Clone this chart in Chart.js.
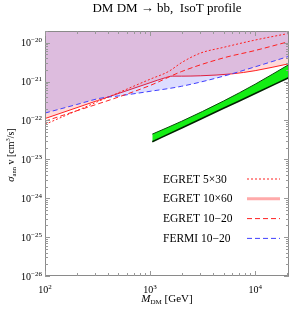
<!DOCTYPE html>
<html>
<head>
<meta charset="utf-8">
<script src="https://cdn.jsdelivr.net/npm/chart.js@4/dist/chart.umd.min.js"></script>
<style>
html, body { margin: 0; padding: 0; background: #fff; }
</style>
</head>
<body>
<canvas id="c" width="294" height="309"></canvas>
<script>
// masses in GeV, <sigma v> in cm^3/s
var fermiMass = [100, 200, 334, 500, 1000, 2000, 5000, 10000, 21000];
var fermiSigma = [1.55e-22, 2.57e-22, 3.72e-22, 4.27e-22, 5.62e-22, 7.59e-22, 1.38e-21, 2.40e-21, 4.47e-21];

var egret1060Mass = [100, 1000, 1400, 1620, 2000, 3000, 6000, 10000, 21000];
var egret1060Sigma = [1.12e-22, 9.33e-22, 1.26e-21, 1.38e-21, 1.38e-21, 1.41e-21, 1.58e-21, 1.91e-21, 2.88e-21];

var egret1020Mass = [100, 1000, 2000, 5000, 10000, 21000];
var egret1020Sigma = [9.55e-23, 7.94e-22, 1.82e-21, 4.07e-21, 6.31e-21, 1.07e-20];

var egret530Mass = [100, 1000, 1500, 2000, 3000, 5000, 10000, 21000];
var egret530Sigma = [7.94e-23, 1.15e-21, 1.82e-21, 3.09e-21, 5.37e-21, 7.59e-21, 1.17e-20, 1.74e-20];

var bandMass = [1050, 2000, 5000, 10000, 21000];
var bandUpper = [4.46e-23, 9.55e-23, 3.16e-22, 8.57e-22, 2.75e-21];
var bandLower = [2.84e-23, 6.43e-23, 2.06e-22, 4.92e-22, 1.27e-21];

var xDecades = [2, 3, 4];
var yDecades = [-26, -25, -24, -23, -22, -21, -20];

var legendLabels = ["EGRET 5\u00d730", "EGRET 10\u00d760", "EGRET 10\u221220", "FERMI 10\u221220"];

function pts(xs, ys) {
  var out = [];
  for (var i = 0; i < xs.length; i++) out.push({x: xs[i], y: ys[i]});
  return out;
}

var SERIF = "'Liberation Serif', 'DejaVu Serif', serif";

function drawPieces(ctx, pieces, x, y, align) {
  // pieces: [text, size, dy, italic]
  var total = 0;
  pieces.forEach(function (p) {
    ctx.font = (p[3] ? "italic " : "") + p[1] + "px " + SERIF;
    p.w = ctx.measureText(p[0]).width;
    total += p.w;
  });
  var cx = x;
  if (align === "center") cx = x - total / 2;
  if (align === "right") cx = x - total;
  ctx.textAlign = "left";
  ctx.textBaseline = "alphabetic";
  pieces.forEach(function (p) {
    ctx.font = (p[3] ? "italic " : "") + p[1] + "px " + SERIF;
    ctx.fillText(p[0], cx, y + p[2]);
    cx += p.w;
  });
}

var decor = {
  id: "decor",
  beforeDraw: function (chart) {
    var ctx = chart.ctx;
    ctx.save();
    ctx.fillStyle = "#fff";
    ctx.fillRect(0, 0, chart.width, chart.height);
    ctx.restore();
  },
  afterDraw: function (chart) {
    var ctx = chart.ctx;
    var a = chart.chartArea;
    var xs = chart.scales.x, ys = chart.scales.y;
    ctx.save();

    // frame
    ctx.strokeStyle = "#8a8a8a";
    ctx.lineWidth = 1;
    ctx.strokeRect(a.left + 0.5, a.top + 0.5, a.right - a.left - 1, a.bottom - a.top - 1);

    // ticks, pointing inwards on all four sides
    ctx.strokeStyle = "#999";
    ctx.beginPath();
    var d, m, px, py, len;
    for (d = 2; d <= 4; d++) {
      for (m = 1; m <= 9; m++) {
        var xv = m * Math.pow(10, d);
        if (xv > xs.max) break;
        px = Math.round(xs.getPixelForValue(xv)) + 0.5;
        len = m === 1 ? 5 : 3;
        ctx.moveTo(px, a.bottom); ctx.lineTo(px, a.bottom - len);
        ctx.moveTo(px, a.top); ctx.lineTo(px, a.top + len);
      }
    }
    for (d = -26; d <= -20; d++) {
      for (m = 1; m <= 9; m++) {
        var yv = m * Math.pow(10, d);
        if (yv > ys.max * 1.0001) break;
        py = Math.round(ys.getPixelForValue(yv)) + 0.5;
        len = m === 1 ? 5 : 3;
        ctx.moveTo(a.left, py); ctx.lineTo(a.left + len, py);
        ctx.moveTo(a.right, py); ctx.lineTo(a.right - len, py);
      }
    }
    ctx.stroke();

    // tick labels
    ctx.fillStyle = "#000";
    xDecades.forEach(function (e) {
      px = xs.getPixelForValue(Math.pow(10, e));
      drawPieces(ctx, [["10", 10, 0], [String(e), 7, -4]], px, 293, "center");
    });
    yDecades.forEach(function (e) {
      py = ys.getPixelForValue(Math.pow(10, e));
      drawPieces(ctx, [["10", 10, 0], ["\u2212" + (-e), 7, -4]], a.left - 3, py + 3.5, "right");
    });

    // titles
    drawPieces(ctx, [["DM DM \u2192 bb,  IsoT profile", 13, 0]], (a.left + a.right) / 2, 12, "center");
    drawPieces(ctx, [["M", 11, 0, true], ["DM", 7, 2], [" [GeV]", 11, 0]], (a.left + a.right) / 2, 302, "center");
    ctx.save();
    ctx.translate(14, 155);
    ctx.rotate(-Math.PI / 2);
    drawPieces(ctx, [["\u03c3", 10.5, 0, true], ["ann", 6.5, 2], [" v [cm", 10, 0], ["3", 6.5, -4], ["/s]", 10, 0]], 0, 0, "center");
    ctx.restore();

    // legend
    var styles = [
      {color: "#ff2020", width: 1, dash: [2, 2]},
      {color: "#ffaaaa", width: 3, dash: []},
      {color: "#ff2020", width: 1, dash: [5, 3]},
      {color: "#4040ff", width: 1, dash: [5, 3]}
    ];
    for (var i = 0; i < legendLabels.length; i++) {
      var ly = 178.5 + i * 19.8;
      ctx.fillStyle = "#000";
      drawPieces(ctx, [[legendLabels[i], 11.5, 0]], 163, ly + 4, "left");
      ctx.strokeStyle = styles[i].color;
      ctx.lineWidth = styles[i].width;
      ctx.setLineDash(styles[i].dash);
      ctx.beginPath();
      ctx.moveTo(247, ly + 0.5);
      ctx.lineTo(280, ly + 0.5);
      ctx.stroke();
    }
    ctx.restore();
  }
};

var smooth = {tension: 0.4, cubicInterpolationMode: "monotone", pointRadius: 0};

new Chart(document.getElementById("c"), {
  type: "line",
  data: {
    datasets: [
      Object.assign({
        label: "FERMI 10-20",
        data: pts(fermiMass, fermiSigma),
        borderColor: "#4040ff", borderWidth: 1, borderDash: [5, 3],
        fill: "end", backgroundColor: "rgba(30,30,255,0.15)",
        order: 5
      }, smooth),
      Object.assign({
        label: "EGRET 10x60",
        data: pts(egret1060Mass, egret1060Sigma),
        borderColor: "#ff2020", borderWidth: 1,
        fill: "end", backgroundColor: "rgba(255,0,0,0.15)",
        order: 6
      }, smooth),
      Object.assign({
        label: "EGRET 10-20",
        data: pts(egret1020Mass, egret1020Sigma),
        borderColor: "#ff2020", borderWidth: 1, borderDash: [5, 3],
        fill: false, order: 3
      }, smooth),
      Object.assign({
        label: "EGRET 5x30",
        data: pts(egret530Mass, egret530Sigma),
        borderColor: "#ff2020", borderWidth: 1, borderDash: [2, 2],
        fill: false, order: 2
      }, smooth),
      Object.assign({
        label: "band upper",
        data: pts(bandMass, bandUpper),
        borderColor: "#0a4a0a", borderWidth: 1,
        fill: "+1", backgroundColor: "#14ee14",
        order: 1
      }, smooth),
      Object.assign({
        label: "band lower",
        data: pts(bandMass, bandLower),
        borderColor: "#002200", borderWidth: 1.6,
        fill: false, order: 0
      }, smooth)
    ]
  },
  options: {
    responsive: false,
    animation: false,
    devicePixelRatio: 1,
    layout: {padding: {left: 45, top: 31, right: 5, bottom: 33}},
    plugins: {
      legend: {display: false},
      tooltip: {enabled: false},
      filler: {propagate: false}
    },
    scales: {
      x: {type: "logarithmic", min: 100, max: 21000, display: false},
      y: {type: "logarithmic", min: 1e-26, max: 2e-20, display: false}
    }
  },
  plugins: [decor]
});
</script>
</body>
</html>
